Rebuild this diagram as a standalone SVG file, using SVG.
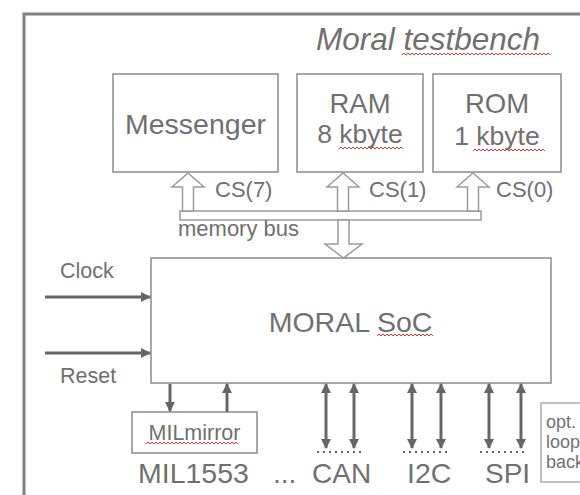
<svg xmlns="http://www.w3.org/2000/svg" width="580" height="495" viewBox="0 0 580 495">
<defs>
<style>
text{font-family:"Liberation Sans",Arial,sans-serif;fill:#707070}
.box{fill:#fff;stroke:#8a8a8a;stroke-width:1.5}
.hollow{fill:#fff;stroke:#9a9a9a;stroke-width:1.5;stroke-linejoin:miter}
.wire{stroke:#666;stroke-width:3;fill:none}
.dots{stroke:#666;stroke-width:2;stroke-dasharray:2 4;fill:none}
.sq{fill:none;stroke:#e03030;stroke-width:1}
</style>
<marker id="ah" viewBox="0 0 10 10" refX="9" refY="5" markerWidth="10" markerHeight="11" markerUnits="userSpaceOnUse" orient="auto-start-reverse">
<path d="M0,0 L10,5 L0,10 z" fill="#666"/>
</marker>
</defs>
<rect x="24" y="14" width="600" height="520" fill="none" stroke="#808080" stroke-width="3"/>
<text x="428" y="50" font-size="31.5" font-style="italic" text-anchor="middle">Moral testbench</text>
<path class="sq" d="M402,55 l2,-2 l2,2 l2,-2 l2,2 l2,-2 l2,2 l2,-2 l2,2 l2,-2 l2,2 l2,-2 l2,2 l2,-2 l2,2 l2,-2 l2,2 l2,-2 l2,2 l2,-2 l2,2 l2,-2 l2,2 l2,-2 l2,2 l2,-2 l2,2 l2,-2 l2,2 l2,-2 l2,2 l2,-2 l2,2 l2,-2 l2,2 l2,-2 l2,2 l2,-2 l2,2 l2,-2 l2,2 l2,-2 l2,2 l2,-2 l2,2 l2,-2 l2,2 l2,-2 l2,2 l2,-2 l2,2 l2,-2 l2,2 l2,-2 l2,2 l2,-2 l2,2 l2,-2 l2,2 l2,-2 l2,2 l2,-2 l2,2 l2,-2 l2,2 l2,-2 l2,2 l2,-2 l2,2 l2,-2 l2,2 l2,-2 l2,2 l2,-2 l2,2"/>
<g id="messenger">
<rect class="box" x="113" y="74" width="165" height="98"/>
<text x="195.5" y="134" font-size="28.5" text-anchor="middle">Messenger</text>
</g>
<g id="ram">
<rect class="box" x="297" y="74" width="126" height="98"/>
<text x="360" y="113" font-size="27.5" text-anchor="middle">RAM</text>
<text x="360" y="143" font-size="26.5" text-anchor="middle">8 kbyte</text>
<path class="sq" d="M339,149 l2,-2 l2,2 l2,-2 l2,2 l2,-2 l2,2 l2,-2 l2,2 l2,-2 l2,2 l2,-2 l2,2 l2,-2 l2,2 l2,-2 l2,2 l2,-2 l2,2 l2,-2 l2,2 l2,-2 l2,2 l2,-2 l2,2 l2,-2 l2,2 l2,-2 l2,2 l2,-2 l2,2 l2,-2 l2,2"/>
</g>
<g id="rom">
<rect class="box" x="433" y="74" width="128" height="98"/>
<text x="497" y="113" font-size="27.5" text-anchor="middle">ROM</text>
<text x="497" y="145" font-size="26.5" text-anchor="middle">1 kbyte</text>
<path class="sq" d="M473,151 l2,-2 l2,2 l2,-2 l2,2 l2,-2 l2,2 l2,-2 l2,2 l2,-2 l2,2 l2,-2 l2,2 l2,-2 l2,2 l2,-2 l2,2 l2,-2 l2,2 l2,-2 l2,2 l2,-2 l2,2 l2,-2 l2,2 l2,-2 l2,2 l2,-2 l2,2 l2,-2 l2,2 l2,-2 l2,2 l2,-2 l2,2 l2,-2 l2,2"/>
</g>
<g id="memory-bus">
<rect class="hollow" x="180" y="211" width="301" height="9"/>
<text x="178" y="236" font-size="22">memory bus</text>
</g>
<g id="soc">
<rect class="box" x="151" y="258" width="400" height="125"/>
<text x="350.5" y="332" font-size="28.5" text-anchor="middle">MORAL SoC</text>
<path class="sq" d="M377,336 l2,-2 l2,2 l2,-2 l2,2 l2,-2 l2,2 l2,-2 l2,2 l2,-2 l2,2 l2,-2 l2,2 l2,-2 l2,2 l2,-2 l2,2 l2,-2 l2,2 l2,-2 l2,2 l2,-2 l2,2 l2,-2 l2,2 l2,-2 l2,2 l2,-2 l2,2"/>
</g>
<g id="milmirror">
<rect class="box" x="132" y="412" width="125" height="41"/>
<text x="194.5" y="440" font-size="21.5" text-anchor="middle">MILmirror</text>
<path class="sq" d="M146,444 l2,-2 l2,2 l2,-2 l2,2 l2,-2 l2,2 l2,-2 l2,2 l2,-2 l2,2 l2,-2 l2,2 l2,-2 l2,2 l2,-2 l2,2 l2,-2 l2,2 l2,-2 l2,2 l2,-2 l2,2 l2,-2 l2,2 l2,-2 l2,2 l2,-2 l2,2 l2,-2 l2,2 l2,-2 l2,2 l2,-2 l2,2 l2,-2 l2,2 l2,-2 l2,2 l2,-2 l2,2 l2,-2 l2,2 l2,-2 l2,2 l2,-2 l2,2"/>
</g>
<g id="loopback">
<rect x="541" y="403" width="60" height="79" fill="#fff" stroke="#aaa" stroke-width="1.5"/>
<text x="546" y="428" font-size="18">opt.</text>
<text x="546" y="448" font-size="18">loop</text>
<text x="546" y="468" font-size="18">back</text>
</g>
<g id="labels">
<text x="215" y="197" font-size="22">CS(7)</text>
<text x="369" y="197" font-size="22">CS(1)</text>
<text x="496" y="197" font-size="22">CS(0)</text>
<text x="60" y="278" font-size="21.5">Clock</text>
<text x="60" y="383" font-size="21.5">Reset</text>
<text x="138" y="483" font-size="28.5">MIL1553</text>
<text x="273" y="483" font-size="28">...</text>
<text x="312" y="483" font-size="28">CAN</text>
<text x="407" y="483" font-size="28.5">I2C</text>
<text x="485" y="483" font-size="28">SPI</text>
</g>
<g id="connectors">
<polygon class="hollow" points="188,173 204,187 193.5,187 193.5,211 182.5,211 182.5,187 172,187"/>
<polygon class="hollow" points="343,173 359,187 348.5,187 348.5,211 337.5,211 337.5,187 327,187"/>
<polygon class="hollow" points="473,173 489,187 478.5,187 478.5,211 467.5,211 467.5,187 457,187"/>
<polygon class="hollow" points="338,220 349,220 349,244 362,244 343.5,258 325,244 338,244"/>
<line class="wire" x1="45" y1="297" x2="150" y2="297" marker-end="url(#ah)"/>
<line class="wire" x1="45" y1="353" x2="150" y2="353" marker-end="url(#ah)"/>
<line class="wire" x1="170" y1="384" x2="170" y2="411" marker-end="url(#ah)"/>
<line class="wire" x1="227" y1="412" x2="227" y2="384" marker-end="url(#ah)"/>
<line class="wire" x1="326" y1="384" x2="326" y2="448" marker-start="url(#ah)" marker-end="url(#ah)"/>
<line class="wire" x1="354" y1="384" x2="354" y2="448" marker-start="url(#ah)" marker-end="url(#ah)"/>
<line class="wire" x1="412" y1="384" x2="412" y2="448" marker-start="url(#ah)" marker-end="url(#ah)"/>
<line class="wire" x1="441" y1="384" x2="441" y2="448" marker-start="url(#ah)" marker-end="url(#ah)"/>
<line class="wire" x1="489" y1="384" x2="489" y2="448" marker-start="url(#ah)" marker-end="url(#ah)"/>
<line class="wire" x1="521" y1="384" x2="521" y2="448" marker-start="url(#ah)" marker-end="url(#ah)"/>
<line class="dots" x1="317" y1="452" x2="365" y2="452"/>
<line class="dots" x1="403" y1="452" x2="451" y2="452"/>
<line class="dots" x1="480" y1="452" x2="528" y2="452"/>
</g>
</svg>
